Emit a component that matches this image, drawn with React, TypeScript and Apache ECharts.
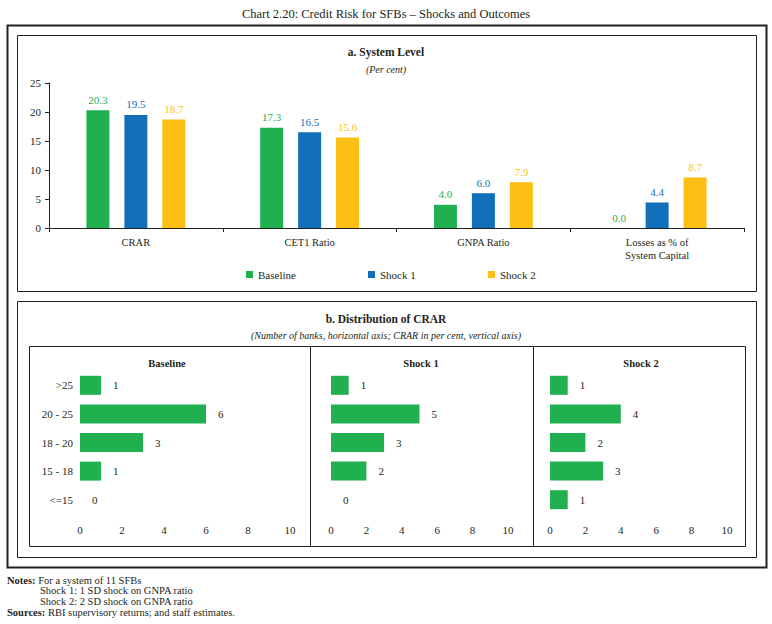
import * as echarts from 'echarts';
import React, { useEffect, useRef } from 'react';

// Panel a: system level (per cent)
const metrics = ['CRAR', 'CET1 Ratio', 'GNPA Ratio', 'Losses as % of\nSystem Capital'];
const baseline = [20.3, 17.3, 4.0, 0.0];
const shock1 = [19.5, 16.5, 6.0, 4.4];
const shock2 = [18.7, 15.6, 7.9, 8.7];

// Panel b: distribution of CRAR (number of banks)
const crarBands = ['>25', '20 - 25', '18 - 20', '15 - 18', '<=15'];
const baselineDist = [1, 6, 3, 1, 0];
const shock1Dist = [1, 5, 3, 2, 0];
const shock2Dist = [1, 4, 2, 3, 1];
const scenarioNames = ['Baseline', 'Shock 1', 'Shock 2'];

const GREEN = '#21b04f';
const BLUE = '#1170b9';
const YELLOW = '#fdbf14';
const INK = '#231f20';
const FONT = '"Liberation Serif", "Times New Roman", serif';

const txt = (
  x: number,
  y: number,
  text: string,
  size: number,
  opts: { weight?: string; style?: string; align?: string } = {},
) => ({
  type: 'text',
  x,
  y,
  silent: true,
  style: {
    text,
    fill: INK,
    font: `${opts.style || 'normal'} ${opts.weight || 'normal'} ${size}px ${FONT}`,
    align: opts.align || 'center',
    verticalAlign: 'middle',
    rich: {
      b: { fontWeight: 'bold', fontSize: size, fontFamily: FONT, fill: INK },
    },
  },
});

const box = (x: number, y: number, w: number, h: number, lw = 1) => ({
  type: 'rect',
  silent: true,
  shape: { x: x + 0.5, y: y + 0.5, width: w, height: h },
  style: { fill: 'none', stroke: INK, lineWidth: lw },
});

const vline = (x: number, y1: number, y2: number) => ({
  type: 'line',
  silent: true,
  shape: { x1: x + 0.5, y1, x2: x + 0.5, y2 },
  style: { stroke: INK, lineWidth: 1 },
});

const App: React.FC = () => {
  const chartRef = useRef<HTMLDivElement>(null);

  useEffect(() => {
    let chart: echarts.ECharts | undefined;
    if (chartRef.current) {
      chart = echarts.init(chartRef.current, undefined, { renderer: 'svg' });

      const distGrids = [
        { left: 80, right: 482 },
        { left: 331, right: 264 },
        { left: 550, right: 45 },
      ];
      const distData = [baselineDist, shock1Dist, shock2Dist];
      const barColors = [GREEN, BLUE, YELLOW];
      const levelData = [baseline, shock1, shock2];

      const option: echarts.EChartsOption = {
        animation: false,
        backgroundColor: '#ffffff',
        textStyle: { fontFamily: FONT, color: INK },
        grid: [
          { left: 49, right: 28, top: 83, bottom: 396 },
          ...distGrids.map((g) => ({ ...g, top: 371, bottom: 110 })),
        ],
        legend: scenarioNames.map((name, i) => ({
          left: [241, 363, 483][i],
          top: 264,
          icon: 'rect',
          itemWidth: 7,
          itemHeight: 7,
          itemGap: 5,
          selectedMode: false,
          data: [name],
          textStyle: { fontSize: 11, color: INK, fontFamily: FONT },
        })),
        xAxis: [
          {
            type: 'category',
            gridIndex: 0,
            data: metrics,
            axisLine: { show: true, lineStyle: { color: INK } },
            axisTick: { show: true, length: 4, lineStyle: { color: INK } },
            axisLabel: { fontSize: 10.5, color: INK, margin: 8, lineHeight: 13, fontFamily: FONT },
          },
          ...distGrids.map((_, i) => ({
            type: 'value' as const,
            gridIndex: i + 1,
            min: 0,
            max: 10,
            interval: 2,
            axisLine: { show: false },
            axisTick: { show: false },
            splitLine: { show: false },
            axisLabel: { fontSize: 11, color: INK, margin: 10, fontFamily: FONT },
          })),
        ],
        yAxis: [
          {
            type: 'value',
            gridIndex: 0,
            min: 0,
            max: 25,
            interval: 5,
            axisLine: { show: true, lineStyle: { color: INK } },
            axisTick: { show: true, length: 4, lineStyle: { color: INK } },
            splitLine: { show: false },
            axisLabel: { fontSize: 11, color: INK, margin: 8, fontFamily: FONT },
          },
          ...distGrids.map((_, i) => ({
            type: 'category' as const,
            gridIndex: i + 1,
            data: crarBands,
            inverse: true,
            axisLine: { show: false },
            axisTick: { show: false },
            axisLabel: {
              show: i === 0,
              fontSize: 11,
              color: INK,
              margin: 7,
              fontFamily: FONT,
            },
          })),
        ],
        series: [
          ...scenarioNames.map((name, i) => ({
            name,
            type: 'bar' as const,
            xAxisIndex: 0,
            yAxisIndex: 0,
            data: levelData[i],
            barWidth: 23,
            barGap: '65%',
            itemStyle: { color: barColors[i] },
            label: {
              show: true,
              position: 'top' as const,
              distance: 5,
              color: barColors[i],
              fontSize: 11,
              fontFamily: FONT,
              formatter: (p: any) => Number(p.value).toFixed(1),
            },
          })),
          ...distData.map((d, i) => ({
            name: `${scenarioNames[i]} distribution`,
            type: 'bar' as const,
            xAxisIndex: i + 1,
            yAxisIndex: i + 1,
            data: d,
            barWidth: 19,
            itemStyle: { color: GREEN },
            label: {
              show: true,
              position: 'right' as const,
              distance: 12,
              color: INK,
              fontSize: 11,
              fontFamily: FONT,
            },
          })),
        ],
        graphic: [
          box(7, 25, 759, 542, 2),
          box(17, 35, 739, 256),
          box(17, 301, 739, 256),
          box(29, 346, 716, 200),
          vline(310, 346, 546),
          vline(533, 346, 546),
          txt(386, 14, 'Chart 2.20: Credit Risk for SFBs – Shocks and Outcomes', 12.5),
          txt(386, 52, 'a. System Level', 11.5, { weight: 'bold' }),
          txt(386, 69, '(Per cent)', 10, { style: 'italic' }),
          txt(386, 319, 'b. Distribution of CRAR', 11.5, { weight: 'bold' }),
          txt(
            386,
            335,
            '(Number of banks, horizontal axis; CRAR in per cent, vertical axis)',
            10,
            { style: 'italic' },
          ),
          txt(167, 363, 'Baseline', 10.5, { weight: 'bold' }),
          txt(421, 363, 'Shock 1', 10.5, { weight: 'bold' }),
          txt(641, 363, 'Shock 2', 10.5, { weight: 'bold' }),
          txt(7, 580, '{b|Notes:} For a system of 11 SFBs', 10.5, { align: 'left' }),
          txt(40, 590, 'Shock 1: 1 SD shock on GNPA ratio', 10.5, { align: 'left' }),
          txt(40, 601, 'Shock 2: 2 SD shock on GNPA ratio', 10.5, { align: 'left' }),
          txt(7, 612, '{b|Sources:} RBI supervisory returns; and staff estimates.', 10.5, {
            align: 'left',
          }),
        ] as any,
      };

      chart.setOption(option);
    }

    return () => {
      chart?.dispose();
    };
  }, []);

  return (
    <div
      ref={chartRef}
      style={{ position: 'absolute', left: 0, top: 0, width: '772px', height: '624px' }}
    />
  );
};

export default App;
